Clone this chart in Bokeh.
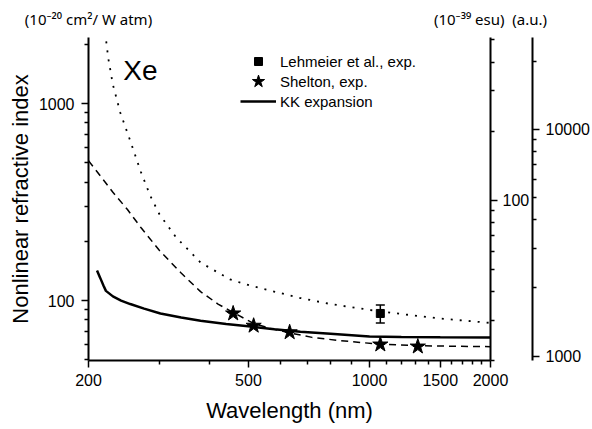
import numpy as np
from bokeh.plotting import figure
from bokeh.models import (Range1d, LogAxis, LogScale, LinearAxis, LinearScale, FixedTicker, Legend,
                          LegendItem, Label, Whisker, TeeHead, ColumnDataSource, NumeralTickFormatter)
from bokeh.embed import file_html
from bokeh.resources import INLINE

FONT = "Liberation Sans"

# KK expansion (solid)
kk_wl = [210, 214, 218, 221, 230, 241, 254, 275, 302, 340, 380, 440, 506, 580, 673, 800, 1000, 1200, 1500, 2000]
kk_val = [142, 130, 119, 112, 105, 100, 96, 91, 86, 82, 79, 76, 73.8, 71.5, 69.5, 67.8, 65.6, 65.3, 65.1, 65.0]

# dashed curve
dash_wl = [200, 215, 230, 250, 270, 300, 340, 380, 420, 458, 515, 570, 633, 720, 850, 1064, 1319, 1600, 2000]
dash_val = [513, 425, 355, 290, 235, 180, 138, 111, 96, 87, 76.5, 72, 68.5, 65, 62.5, 60, 59, 58.6, 58.3]

# dotted curve
dot_wl = [220, 224, 230, 240, 254, 270, 285, 300, 330, 380, 450, 506, 673, 800, 1064, 1500, 2000]
dot_val = [2300, 1700, 1250, 900, 649, 450, 340, 275, 210, 156, 128, 119, 103, 96, 88, 81, 77]

# Shelton, exp. (stars)
sh_wl = [458, 515, 633, 1064, 1319]
sh_val = [86, 74.5, 69, 59.8, 58.4]

# Lehmeier et al., exp. (square with error bar)
le_wl = [1064]
le_val = [86]
le_err = [9]

x_ticks = [200, 500, 1000, 1500, 2000]
x_minor = [300, 400, 600, 700, 800, 900, 1100, 1200, 1300, 1400, 1600, 1700, 1800, 1900]
y_ticks = [100, 1000]
y_minor = [50, 60, 70, 80, 90, 200, 300, 400, 500, 600, 700, 800, 900, 2000]
esu_ticks = [100]
esu_minor = [20, 30, 40, 50, 60, 70, 80, 90, 200, 300, 400, 500]
au_ticks = [1000, 10000]
au_minor = [2000, 3000, 4000, 5000, 6000, 7000, 8000, 9000, 20000]
unit_texts = ["(10\u207b\u00b2\u2070 cm\u00b2/ W atm)",
              "(10\u207b\u00b3\u2079 esu)\u00a0\u00a0(a.u.)"]

p = figure(width=592, height=429, x_axis_type="log", y_axis_type="log",
           x_range=Range1d(200, 2000), y_range=Range1d(49.6, 2170),
           output_backend="svg", toolbar_location=None,
           min_border_left=88, min_border_right=102, min_border_top=37, min_border_bottom=69)
p.outline_line_color = None
p.xgrid.visible = False
p.ygrid.visible = False
p.background_fill_color = "white"

p.extra_y_ranges = {"esu": Range1d(20, 512), "au": Range1d(957, 25460)}
p.extra_y_scales = {"esu": LogScale(), "au": LogScale()}
p.extra_x_ranges = {"units": Range1d(0, 1)}
p.extra_x_scales = {"units": LinearScale()}


def style_axis(ax, ticks, minor):
    ax.ticker = FixedTicker(ticks=ticks, minor_ticks=minor)
    ax.formatter = NumeralTickFormatter(format="0")
    ax.axis_line_width = 2
    ax.axis_line_color = "black"
    ax.major_tick_line_width = 1.5
    ax.minor_tick_line_width = 1.5
    ax.major_tick_line_color = "black"
    ax.minor_tick_line_color = "black"
    ax.major_tick_out = 7
    ax.major_tick_in = 0
    ax.minor_tick_out = 4
    ax.minor_tick_in = 0
    ax.major_label_text_font = FONT
    ax.major_label_text_font_size = "16px"
    ax.major_label_text_color = "black"
    ax.axis_label_text_font = FONT
    ax.axis_label_text_font_size = "22px"
    ax.axis_label_text_font_style = "normal"
    ax.axis_label_text_color = "black"


style_axis(p.xaxis[0], x_ticks, x_minor)
style_axis(p.yaxis[0], y_ticks, y_minor)
p.xaxis[0].axis_label = "Wavelength (nm)"
p.xaxis[0].major_label_standoff = 6
p.xaxis[0].axis_label_standoff = 9
p.yaxis[0].axis_label = "Nonlinear refractive index"
p.yaxis[0].major_label_standoff = 7
p.yaxis[0].axis_label_standoff = 3

ax_esu = LogAxis(y_range_name="esu")
style_axis(ax_esu, esu_ticks, esu_minor)
ax_esu.major_label_standoff = 5
p.add_layout(ax_esu, "right")

ax_au = LogAxis(y_range_name="au")
style_axis(ax_au, au_ticks, au_minor)
ax_au.major_label_standoff = 6
p.add_layout(ax_au, "right")

# unit captions above the frame (as labels of an invisible top axis)
ax_units = LinearAxis(x_range_name="units")
ax_units.ticker = FixedTicker(ticks=[0, 1], minor_ticks=[])
ax_units.major_label_overrides = {0: unit_texts[0], 1: unit_texts[1]}
ax_units.axis_line_color = None
ax_units.major_tick_line_color = None
ax_units.minor_tick_line_color = None
ax_units.major_tick_out = 0
ax_units.major_tick_in = 0
ax_units.major_label_standoff = 9
ax_units.major_label_text_font = "Noto Sans"
ax_units.major_label_text_font_size = "15px"
ax_units.major_label_text_color = "black"
p.add_layout(ax_units, "above")

# curves
p.line(dot_wl, dot_val, line_color="black", line_width=1.8, line_dash="2 7")
p.line(dash_wl, dash_val, line_color="black", line_width=1.5, line_dash="7 5")
kk = p.line(kk_wl, kk_val, line_color="black", line_width=2.5)

# Lehmeier with error bars
le_src = ColumnDataSource(dict(x=le_wl, y=le_val,
                               upper=[v + e for v, e in zip(le_val, le_err)],
                               lower=[v - e for v, e in zip(le_val, le_err)]))
p.add_layout(Whisker(base="x", upper="upper", lower="lower", source=le_src,
                     line_color="black", line_width=1.5,
                     upper_head=TeeHead(size=9, line_width=1.5, line_color="black"),
                     lower_head=TeeHead(size=9, line_width=1.5, line_color="black")))
sq = p.scatter("x", "y", source=le_src, marker="square", size=8, fill_color="black", line_color="black")

st = p.scatter(sh_wl, sh_val, marker="star", size=16, fill_color="black", line_color="black")


def make_legend(label, rend, gh, loc):
    lg = Legend(items=[LegendItem(label=label, renderers=[rend])], location=loc)
    lg.border_line_color = None
    lg.background_fill_alpha = 0
    lg.padding = 0
    lg.margin = 0
    lg.spacing = 0
    lg.glyph_width = 36
    lg.glyph_height = gh
    lg.label_height = gh
    lg.label_standoff = 4
    lg.label_text_font = FONT
    lg.label_text_font_size = "15px"
    lg.label_text_color = "black"
    p.add_layout(lg)


make_legend("Lehmeier et al., exp.", sq, 20, (152, 289))
make_legend("Shelton, exp.", st, 32, (152, 263))
make_legend("KK expansion", kk, 20, (152, 249))

p.add_layout(Label(x=244, y=1468, text="Xe", text_font=FONT, text_font_size="28px",
                   text_color="black", text_baseline="alphabetic"))

open("out.html", "w").write(file_html(p, INLINE))
